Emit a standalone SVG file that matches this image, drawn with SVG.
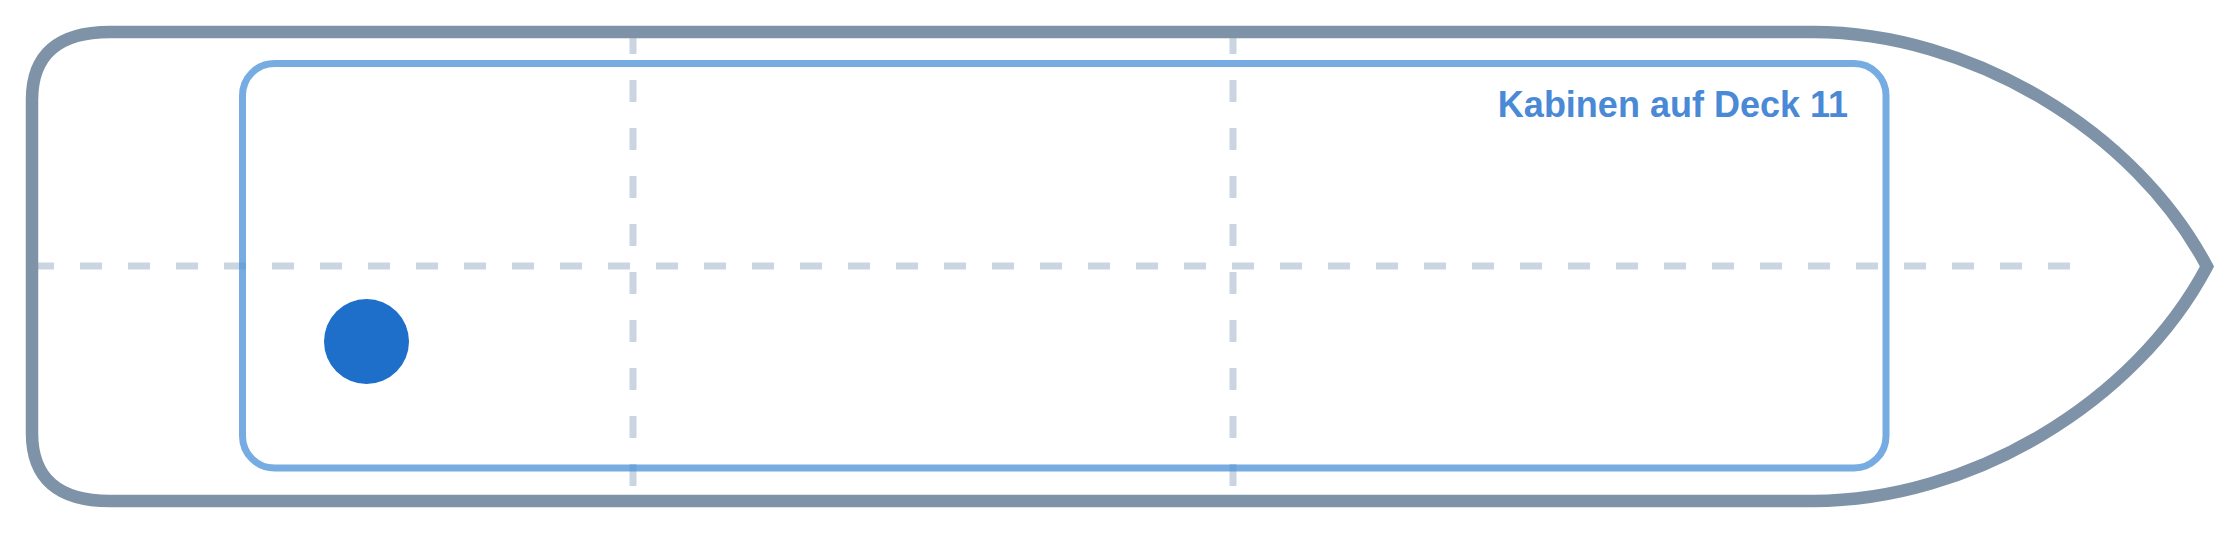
<svg xmlns="http://www.w3.org/2000/svg" width="2240" height="533" viewBox="0 0 2240 533">
  <style>
    .grid { stroke: #cbd5e1; stroke-width: 7; stroke-dasharray: 22 26; fill: none; }
    .hull { fill: none; stroke: #7f93a8; stroke-width: 12.5; stroke-linejoin: miter; }
    .deck { fill: none; stroke: #4a90d9; stroke-opacity: 0.75; stroke-width: 7; }
    .label { font-family: "Liberation Sans", Arial, sans-serif; font-weight: bold; font-size: 36px; fill: #4a89d6; }
    .cabin { fill: #1d6fc9; }
  </style>
  <rect width="2240" height="533" fill="#ffffff"/>
  <g id="grid">
    <line class="grid" x1="32" y1="266" x2="2080" y2="266"/>
    <line class="grid" x1="633" y1="32" x2="633" y2="501"/>
    <line class="grid" x1="1233" y1="32" x2="1233" y2="501"/>
  </g>
  <g id="deck">
    <rect class="deck" x="242.5" y="63.5" width="1643.5" height="404.5" rx="32" ry="32"/>
  </g>
  <g id="hull">
    <path class="hull" d="M110,32 L1813,32 C1970,32 2135,130 2207,266.5 C2135,403 1970,501 1813,501 L110,501 Q32,501 32,433 L32,100 Q32,32 110,32 Z"/>
  </g>
  <g id="deck-label">
    <text class="label" x="1848" y="116.5" text-anchor="end">Kabinen auf Deck 11</text>
  </g>
  <g id="cabin">
    <circle class="cabin" cx="366.5" cy="341.5" r="42.5"/>
  </g>
</svg>
